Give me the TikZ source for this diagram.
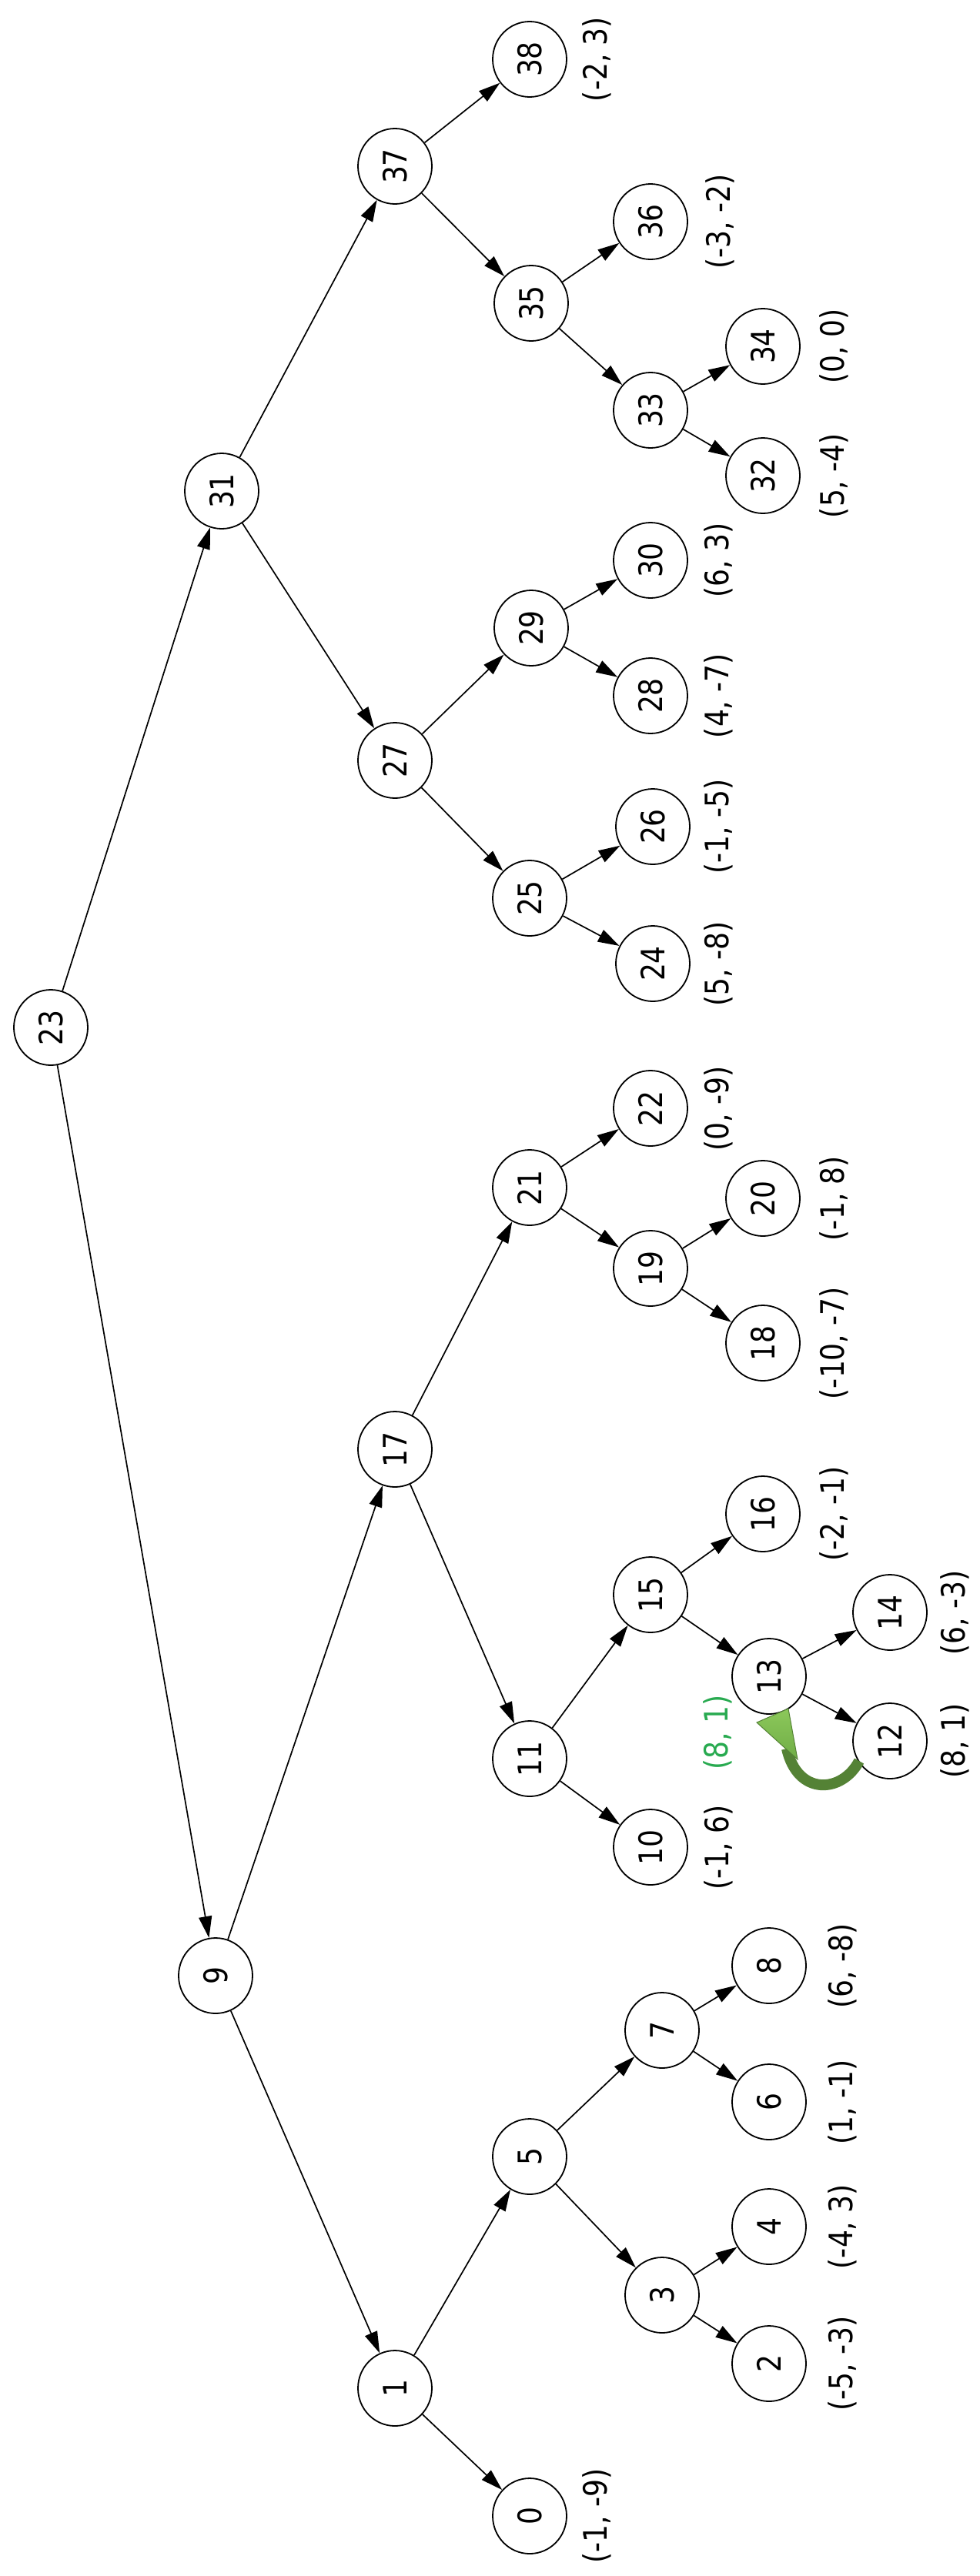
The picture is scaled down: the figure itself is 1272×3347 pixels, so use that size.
\documentclass[tikz,border=0pt]{standalone}
\usepackage{fontspec}
\setmainfont{DejaVu Sans}[FakeStretch=0.86]
\usetikzlibrary{shapes.geometric,arrows.meta}
\definecolor{shaftgreen}{RGB}{84,130,53}
\definecolor{headgreen}{RGB}{112,173,71}
\definecolor{headlight}{RGB}{140,200,90}
\definecolor{notegreen}{RGB}{40,170,80}
\begin{document}
\begin{tikzpicture}[x=1pt,y=-1pt,
  vtx/.style={draw, ellipse, line width=1.8pt, minimum width=98pt, minimum height=96pt,
    inner sep=0pt, rotate=90, font=\fontsize{42}{46}\selectfont},
  coord/.style={rotate=90, inner sep=0pt, font=\fontsize{42}{46}\selectfont},
  edge/.style={line width=1.7pt, -{Triangle[length=28pt,width=17pt]}},
]
\useasboundingbox (0,0) rectangle (1272,3347);

% tree nodes
\node[vtx] (n23) at (66,1335) {23};
\node[vtx] (n9)  at (280,2567) {9};
\node[vtx] (n31) at (288,638) {31};
\node[vtx] (n1)  at (513,3103) {1};
\node[vtx] (n17) at (513,1883) {17};
\node[vtx] (n27) at (513,988) {27};
\node[vtx] (n37) at (513,216) {37};
\node[vtx] (n0)  at (688,3269) {0};
\node[vtx] (n5)  at (688,2802) {5};
\node[vtx] (n11) at (688,2285) {11};
\node[vtx] (n21) at (688,1543) {21};
\node[vtx] (n25) at (688,1167) {25};
\node[vtx] (n29) at (690,816) {29};
\node[vtx] (n35) at (690,394) {35};
\node[vtx] (n38) at (688,77) {38};
\node[vtx] (n3)  at (860,2982) {3};
\node[vtx] (n7)  at (860,2638) {7};
\node[vtx] (n10) at (845,2400) {10};
\node[vtx] (n15) at (845,2072) {15};
\node[vtx] (n19) at (845,1648) {19};
\node[vtx] (n22) at (845,1440) {22};
\node[vtx] (n24) at (848,1252) {24};
\node[vtx] (n26) at (848,1074) {26};
\node[vtx] (n28) at (845,904) {28};
\node[vtx] (n30) at (845,728) {30};
\node[vtx] (n33) at (845,533) {33};
\node[vtx] (n36) at (845,288) {36};
\node[vtx] (n2)  at (999,3071) {2};
\node[vtx] (n4)  at (999,2893) {4};
\node[vtx] (n6)  at (999,2731) {6};
\node[vtx] (n8)  at (999,2554) {8};
\node[vtx] (n13) at (999,2178) {13};
\node[vtx] (n16) at (991,1967) {16};
\node[vtx] (n18) at (991,1745) {18};
\node[vtx] (n20) at (991,1557) {20};
\node[vtx] (n32) at (991,618) {32};
\node[vtx] (n34) at (991,450) {34};
\node[vtx] (n12) at (1156,2262) {12};
\node[vtx] (n14) at (1156,2095) {14};

% parent -> child edges
\foreach \p/\c in {23/9,23/31,9/1,9/17,1/0,1/5,5/3,5/7,3/2,3/4,7/6,7/8,
                   17/11,17/21,11/10,11/15,15/13,15/16,13/12,13/14,
                   21/19,21/22,19/18,19/20,31/27,31/37,27/25,27/29,
                   25/24,25/26,29/28,29/30,37/35,37/38,35/33,35/36,33/32,33/34}
  \draw[edge] (n\p) -- (n\c);

% coordinates of the leaves
\node[coord] (c38) at (775,77) {(-2, 3)};
\node[coord] (c36) at (935,288) {(-3, -2)};
\node[coord] (c34) at (1083,450) {(0, 0)};
\node[coord] (c32) at (1083,618) {(5, -4)};
\node[coord] (c30) at (933,728) {(6, 3)};
\node[coord] (c28) at (933,904) {(4, -7)};
\node[coord] (c26) at (933,1074) {(-1, -5)};
\node[coord] (c24) at (933,1252) {(5, -8)};
\node[coord] (c22) at (933,1440) {(0, -9)};
\node[coord] (c20) at (1083,1557) {(-1, 8)};
\node[coord] (c18) at (1083,1745) {(-10, -7)};
\node[coord] (c16) at (1083,1967) {(-2, -1)};
\node[coord] (c14) at (1240,2095) {(6, -3)};
\node[coord] (c12) at (1240,2262) {(8, 1)};
\node[coord] (c10) at (933,2400) {(-1, 6)};
\node[coord] (c8)  at (1094,2554) {(6, -8)};
\node[coord] (c6)  at (1094,2731) {(1, -1)};
\node[coord] (c4)  at (1094,2893) {(-4, 3)};
\node[coord] (c2)  at (1094,3071) {(-5, -3)};
\node[coord] (c0)  at (775,3269) {(-1, -9)};
\node[coord, text=notegreen] (c13) at (932,2251) {(8, 1)};

% curved green arrow carrying the value of 12 up to 13
\coordinate (gt) at (1116,2288);
\coordinate (gh) at (1022,2272);
\draw[shaftgreen, line width=14pt] (gt) .. controls (1094,2330) and (1036,2334) .. (gh);
\shade[top color=headlight, bottom color=headgreen, draw=shaftgreen, line width=1pt]
  (983,2238) -- (1024,2220) -- (1036,2286) -- cycle;
\end{tikzpicture}
\end{document}
